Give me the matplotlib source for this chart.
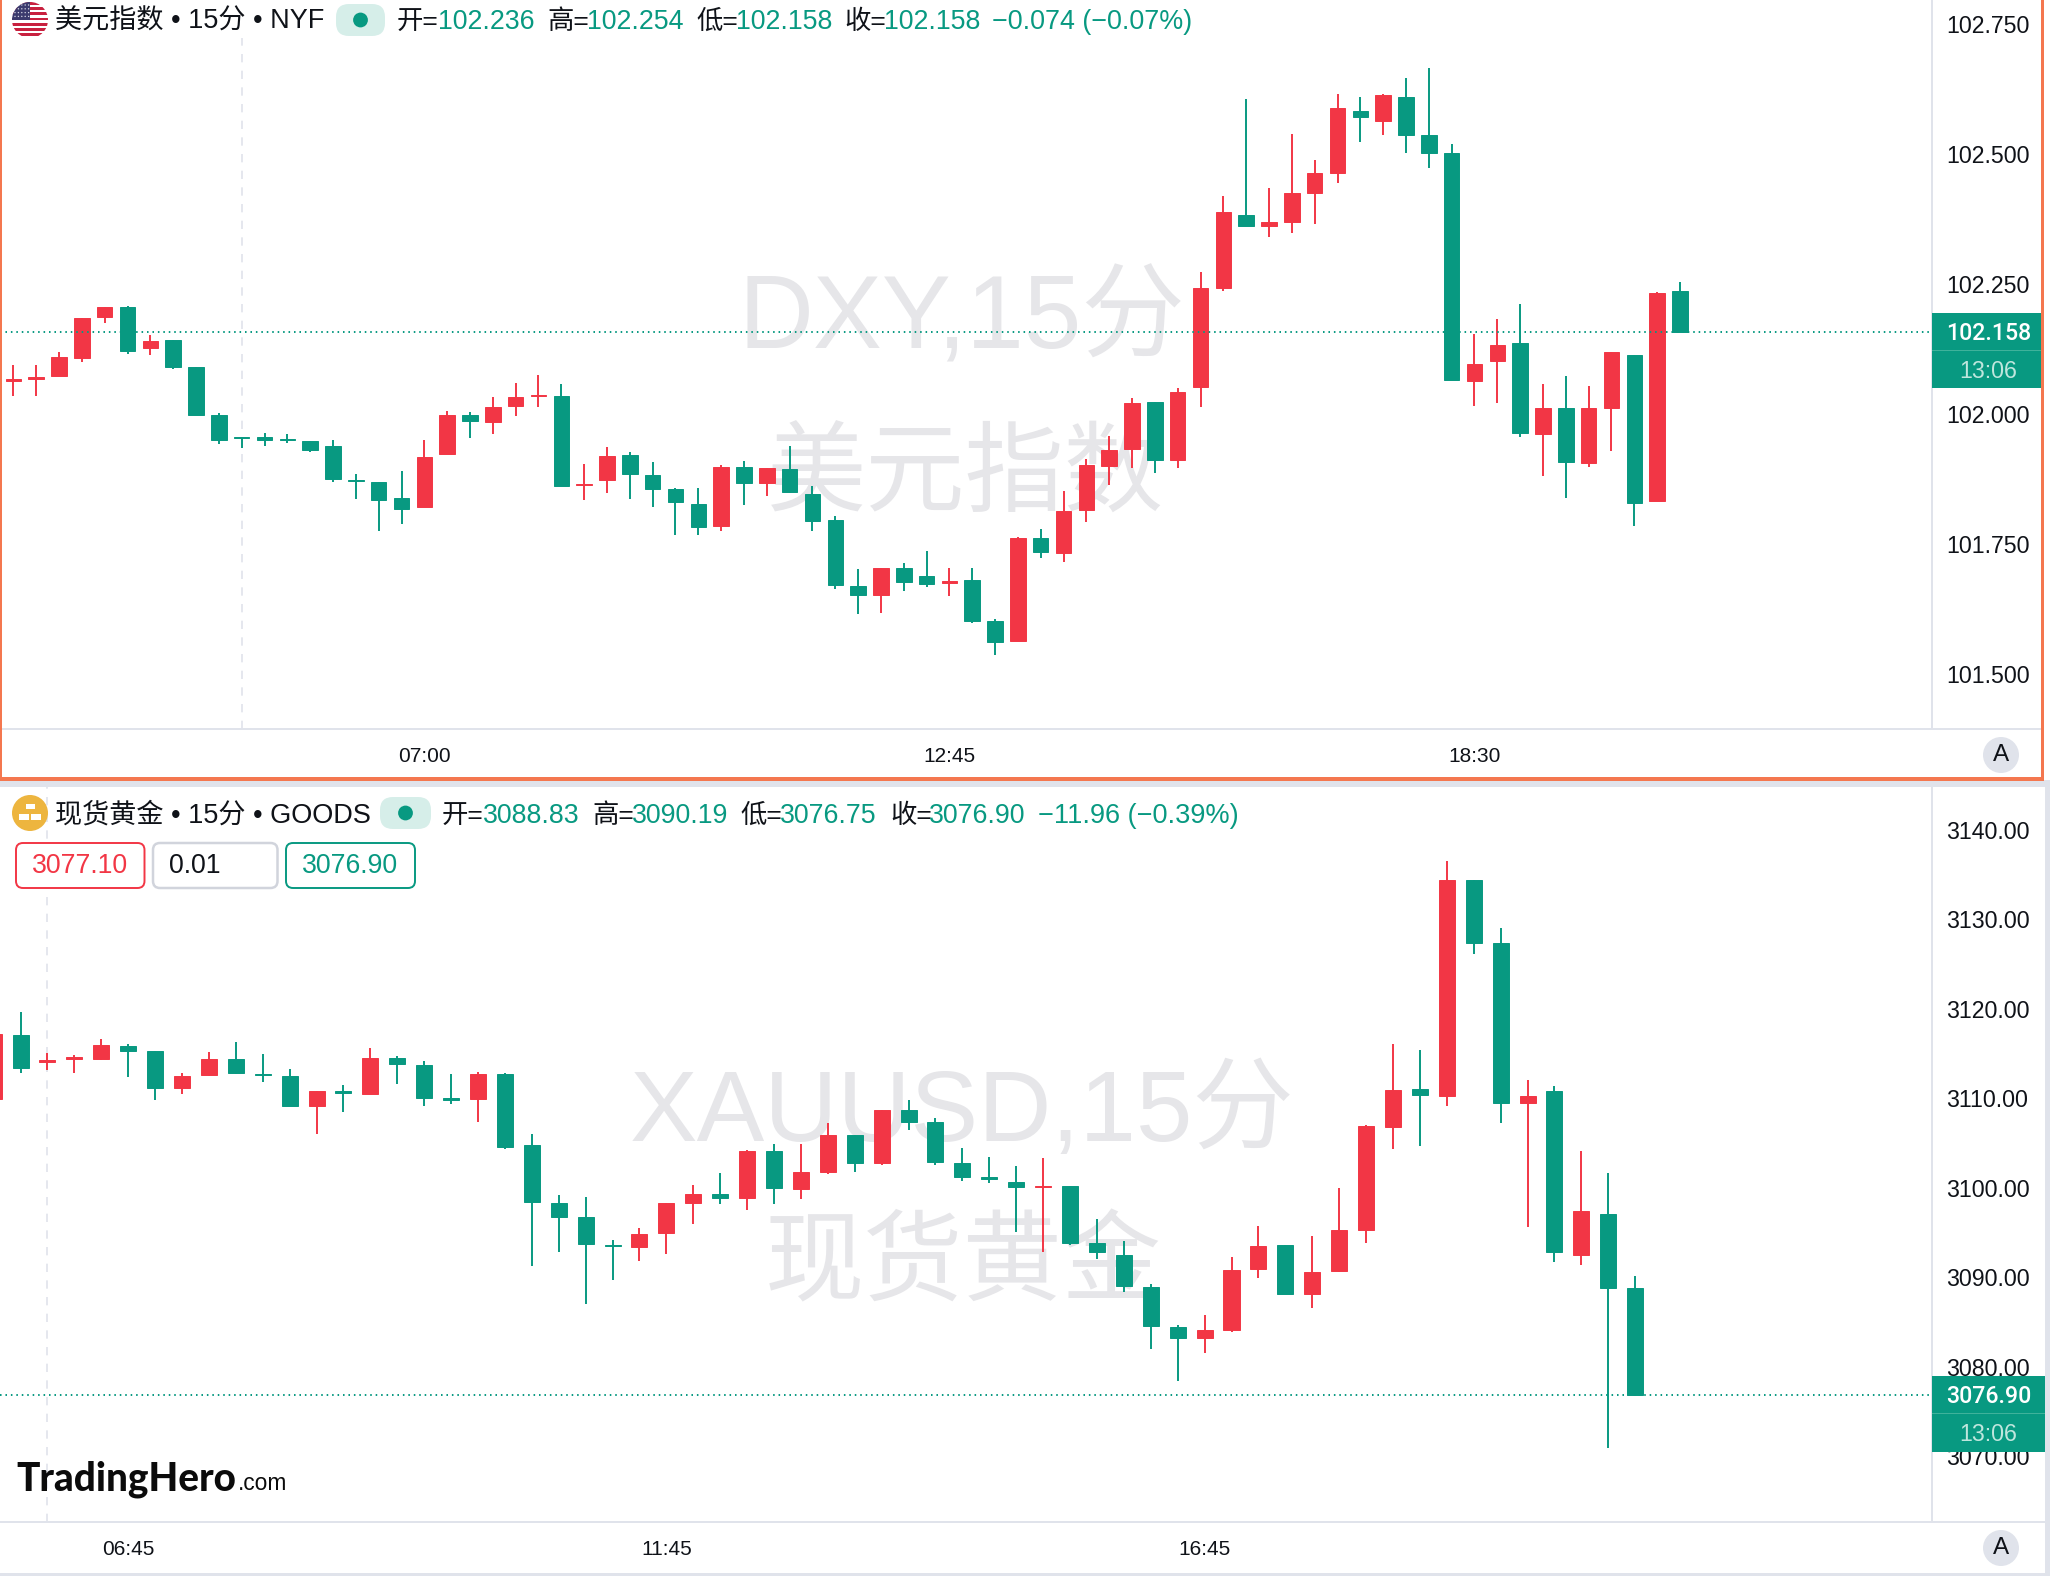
import matplotlib
matplotlib.use("Agg")
import matplotlib.pyplot as plt
from matplotlib.patches import Circle, Rectangle, FancyBboxPatch

# 15 minute bars
dxy_open = [102.064, 102.067, 102.073, 102.108, 102.187, 102.205, 102.126, 102.143, 102.091, 101.998,
            101.956, 101.956, 101.952, 101.948, 101.938, 101.873, 101.869, 101.839, 101.821, 101.923,
            101.998, 101.985, 102.015, 102.034, 102.035, 101.864, 101.872, 101.920, 101.883, 101.855,
            101.826, 101.784, 101.898, 101.867, 101.894, 101.846, 101.796, 101.669, 101.652, 101.703,
            101.689, 101.674, 101.681, 101.602, 101.563, 101.762, 101.732, 101.815, 101.899, 101.932,
            102.022, 101.912, 102.051, 102.242, 102.383, 102.362, 102.369, 102.425, 102.464, 102.582,
            102.564, 102.610, 102.536, 102.502, 102.063, 102.101, 102.137, 101.961, 102.012, 101.905,
            102.012, 102.113, 101.833, 102.236]
dxy_high = [102.095, 102.095, 102.119, 102.185, 102.206, 102.208, 102.152, 102.143, 102.091, 102.001,
            101.956, 101.964, 101.961, 101.948, 101.950, 101.884, 101.869, 101.891, 101.950, 102.005,
            102.004, 102.033, 102.059, 102.075, 102.058, 101.904, 101.936, 101.926, 101.907, 101.857,
            101.857, 101.902, 101.909, 101.896, 101.938, 101.861, 101.804, 101.702, 101.703, 101.713,
            101.737, 101.703, 101.704, 101.605, 101.764, 101.779, 101.851, 101.914, 101.958, 102.031,
            102.022, 102.050, 102.273, 102.420, 102.605, 102.435, 102.539, 102.488, 102.616, 102.610,
            102.615, 102.646, 102.666, 102.519, 102.154, 102.182, 102.212, 102.058, 102.073, 102.053,
            102.120, 102.113, 102.234, 102.254]
dxy_low = [102.034, 102.034, 102.073, 102.100, 102.175, 102.116, 102.114, 102.087, 101.998, 101.942,
           101.934, 101.939, 101.944, 101.926, 101.869, 101.837, 101.774, 101.788, 101.821, 101.923,
           101.954, 101.962, 101.996, 102.014, 101.862, 101.835, 101.848, 101.837, 101.820, 101.768,
           101.767, 101.775, 101.824, 101.843, 101.847, 101.774, 101.664, 101.616, 101.618, 101.660,
           101.667, 101.649, 101.598, 101.537, 101.563, 101.722, 101.715, 101.792, 101.863, 101.896,
           101.886, 101.896, 102.013, 102.237, 102.361, 102.340, 102.348, 102.366, 102.445, 102.522,
           102.536, 102.502, 102.472, 102.065, 102.015, 102.020, 101.956, 101.881, 101.839, 101.897,
           101.929, 101.785, 101.833, 102.158]
dxy_close = [102.068, 102.071, 102.110, 102.185, 102.206, 102.121, 102.141, 102.091, 101.998, 101.949,
             101.953, 101.949, 101.949, 101.930, 101.874, 101.871, 101.835, 101.818, 101.917, 101.997,
             101.987, 102.014, 102.033, 102.036, 101.862, 101.866, 101.919, 101.884, 101.855, 101.830,
             101.783, 101.898, 101.868, 101.896, 101.849, 101.794, 101.671, 101.651, 101.703, 101.676,
             101.673, 101.679, 101.602, 101.562, 101.762, 101.734, 101.813, 101.902, 101.931, 102.021,
             101.911, 102.043, 102.242, 102.388, 102.361, 102.369, 102.424, 102.463, 102.589, 102.571,
             102.613, 102.536, 102.502, 102.066, 102.095, 102.132, 101.963, 102.011, 101.907, 102.012,
             102.119, 101.828, 102.232, 102.158]

gold_open = [3109.96, 3117.04, 3114.09, 3114.43, 3114.43, 3115.85, 3115.28, 3111.20, 3112.62, 3114.38,
             3112.73, 3112.51, 3109.10, 3110.80, 3110.46, 3114.55, 3113.70, 3110.01, 3109.96, 3112.68,
             3104.74, 3098.33, 3096.69, 3093.63, 3093.40, 3094.93, 3098.28, 3099.35, 3098.90, 3104.12,
             3099.86, 3101.79, 3105.87, 3102.81, 3108.65, 3107.35, 3102.81, 3101.17, 3100.66, 3100.15,
             3100.26, 3093.85, 3092.49, 3088.98, 3084.50, 3083.25, 3084.16, 3090.91, 3093.63, 3088.13,
             3090.68, 3095.27, 3106.78, 3111.09, 3110.30, 3134.33, 3127.30, 3109.44, 3110.80, 3092.55,
             3097.09, 3088.83]
gold_high = [3117.21, 3119.65, 3115.11, 3114.89, 3116.64, 3116.08, 3115.28, 3112.79, 3115.17, 3116.25,
             3114.94, 3113.24, 3110.86, 3111.49, 3115.62, 3114.77, 3114.21, 3112.68, 3112.90, 3112.79,
             3105.99, 3099.18, 3099.01, 3094.19, 3095.56, 3098.33, 3100.32, 3101.62, 3104.28, 3104.91,
             3104.91, 3107.29, 3105.87, 3108.65, 3109.84, 3107.80, 3104.45, 3103.44, 3102.47, 3103.38,
             3100.26, 3096.57, 3094.08, 3089.26, 3084.67, 3085.75, 3092.27, 3095.79, 3093.63, 3094.65,
             3100.03, 3107.00, 3116.08, 3115.45, 3136.49, 3134.39, 3129.06, 3112.05, 3111.43, 3104.12,
             3101.68, 3090.19]
gold_low = [3109.96, 3112.85, 3113.19, 3112.79, 3114.27, 3112.39, 3109.78, 3110.46, 3112.51, 3112.73,
            3111.83, 3109.16, 3105.99, 3108.48, 3110.46, 3111.65, 3109.16, 3109.39, 3107.35, 3104.34,
            3091.25, 3092.83, 3087.05, 3089.72, 3091.87, 3092.66, 3096.01, 3098.16, 3097.54, 3098.16,
            3098.79, 3101.56, 3101.73, 3102.58, 3106.44, 3102.58, 3100.71, 3100.54, 3095.05, 3092.83,
            3093.63, 3092.04, 3088.36, 3081.95, 3078.44, 3081.50, 3083.88, 3089.94, 3088.13, 3086.54,
            3090.57, 3093.85, 3104.34, 3104.63, 3109.10, 3126.11, 3107.29, 3095.67, 3091.70, 3091.36,
            3070.90, 3076.75]
gold_close = [3117.21, 3113.36, 3114.27, 3114.60, 3115.96, 3115.34, 3111.20, 3112.51, 3114.38, 3112.85,
              3112.56, 3109.16, 3110.86, 3110.58, 3114.49, 3113.81, 3110.01, 3109.78, 3112.68, 3104.51,
              3098.45, 3096.80, 3093.74, 3093.46, 3094.82, 3098.33, 3099.30, 3098.90, 3104.17, 3100.03,
              3101.79, 3105.93, 3102.81, 3108.65, 3107.40, 3102.87, 3101.22, 3101.00, 3100.15, 3100.26,
              3093.85, 3092.83, 3089.04, 3084.56, 3083.20, 3084.16, 3090.85, 3093.52, 3088.13, 3090.62,
              3095.27, 3106.89, 3110.98, 3110.35, 3134.33, 3127.30, 3109.44, 3110.30, 3092.78, 3097.43,
              3088.87, 3076.90]

dxy_yticks = [101.5, 101.75, 102.0, 102.25, 102.5, 102.75]
dxy_ylabels = ["101.500", "101.750", "102.000", "102.250", "102.500", "102.750"]
dxy_xticks = [18, 41, 64]
dxy_xlabels = ["07:00", "12:45", "18:30"]
gold_yticks = [3070, 3080, 3090, 3100, 3110, 3120, 3130, 3140]
gold_ylabels = ["3070.00", "3080.00", "3090.00", "3100.00", "3110.00", "3120.00", "3130.00", "3140.00"]
gold_xticks = [5, 25, 45]
gold_xlabels = ["06:45", "11:45", "16:45"]

UP = "#F23645"
DOWN = "#089981"
INK = "#0F1218"
LINE = "#E0E3EB"
ORANGE = "#F4774F"
WM = "#E6E6E9"
FONT = ["Liberation Sans", "Noto Sans CJK SC"]
W, H = 2050, 1576

plt.rcParams["font.family"] = FONT
fig = plt.figure(figsize=(W / 100, H / 100), dpi=100)


def pane(top, bottom):
    a = fig.add_axes([0, 1 - bottom / H, 1932 / W, (bottom - top) / H])
    a.patch.set_alpha(0)
    for s in a.spines.values():
        s.set_visible(False)
    a.yaxis.tick_right()
    a.tick_params(length=0, colors=INK)
    a.tick_params(axis="y", labelsize=16.7, pad=10.2)
    a.tick_params(axis="x", labelsize=15, pad=13)
    return a


def candles(a, o, h, l, c, width):
    for i in range(len(o)):
        col = UP if c[i] >= o[i] else DOWN
        a.vlines(i, l[i], h[i], color=col, lw=1.4, zorder=3)
        a.bar(i, abs(c[i] - o[i]), bottom=min(o[i], c[i]), width=width, color=col,
              edgecolor=col, lw=0.7, zorder=4)


ax1 = pane(0, 729)
candles(ax1, dxy_open, dxy_high, dxy_low, dxy_close, 0.68)
ax1.set_xlim(-0.587, 84.04)
ax1.set_ylim(101.394, 102.796)
ax1.set_yticks(dxy_yticks, dxy_ylabels)
ax1.set_xticks(dxy_xticks, dxy_xlabels)
ax1.axvline(10, ymax=0.948, color=LINE, lw=1.2, ls=(0, (5, 5)), zorder=1)
ax1.axhline(dxy_close[-1], color=DOWN, lw=1.4, ls=(0, (0.8, 2)), zorder=5)

ax2 = pane(787, 1522)
candles(ax2, gold_open, gold_high, gold_low, gold_close, 0.595)
ax2.set_xlim(0.238, 72.03)
ax2.set_ylim(3062.68, 3144.77)
ax2.set_yticks(gold_yticks, gold_ylabels)
ax2.set_xticks(gold_xticks, gold_xlabels)
ax2.axvline(2, color=LINE, lw=1.2, ls=(0, (5, 5)), zorder=1)
ax2.axhline(gold_close[-1], color=DOWN, lw=1.4, ls=(0, (0.8, 2)), zorder=5)

# watermarks sit behind the transparent panes
for x, y, s, size in [(962, 321, "DXY,15分", 74.5), (965, 479, "美元指数", 71.5),
                      (962, 1114, "XAUUSD,15分", 73), (963, 1267, "现货黄金", 71.5)]:
    fig.text(x / W, 1 - y / H, s, color=WM, fontsize=size, fontweight=500, ha="center", va="center", zorder=-1)

# everything around the charts is drawn in pixel space on top
ui = fig.add_axes([0, 0, 1, 1])
ui.set_xlim(0, W)
ui.set_ylim(H, 0)
ui.axis("off")
ui.patch.set_alpha(0)


def rect(x0, y0, x1, y1, col, z=2):
    ui.add_patch(Rectangle((x0, y0), x1 - x0, y1 - y0, fc=col, ec="none", zorder=z))


rect(1931, 0, 1933, 729, LINE)
rect(0, 728, 2042, 730, LINE)
rect(1931, 787, 1933, 1522, LINE)
rect(0, 1521, 2045, 1523, LINE)
rect(0, 780, W, 787, LINE)
rect(0, 1573, W, H, LINE)
rect(2045, 781, W, H, LINE)

# price tags
for y0, y1, split, price, x1 in [(313, 388, 350.5, "102.158", 2041), (1376, 1452, 1413.5, "3076.90", 2045)]:
    rect(1932, y0, x1, y1, DOWN, 3)
    rect(1932, split - 0.5, x1, split + 0.5, "#3FB29B", 4)
    ui.text(1988.5, (y0 + split) / 2 + 2, price, color="white", fontsize=16.7, fontweight="medium",
            family=["Roboto", "Liberation Sans"], ha="center", va="center", zorder=5)
    ui.text(1988.5, (split + y1) / 2 + 2, "13:06", color="#BFE6DD", fontsize=16.7, ha="center", va="center", zorder=5)

# orange selection frame of the top pane
rect(0, 0, 2, 779, ORANGE, 6)
rect(2041, 0, 2044, 781, ORANGE, 6)
rect(0, 777, 2044, 781, ORANGE, 6)

for y in [755, 1548]:
    ui.add_patch(Circle((2001, y), 18, fc=LINE, ec="none"))
    ui.text(2001, y, "A", color=INK, fontsize=17.5, ha="center", va="center")

# flag
disc = Circle((30, 20), 18, fc="white", ec="none", zorder=3)
ui.add_patch(disc)
for i in range(7):
    r = Rectangle((10, 2 + i * 5.2), 40, 2.7, fc="#C8213F", ec="none", zorder=3)
    ui.add_patch(r)
    r.set_clip_path(disc)
canton = Rectangle((10, 2), 20, 18, fc="#3C3B6E", ec="none", zorder=3)
ui.add_patch(canton)
canton.set_clip_path(disc)
for i in range(4):
    for j in range(5):
        star = Circle((15 + j * 3.4, 5 + i * 3.8), 0.7, fc="#D8D8E6", ec="none", zorder=4)
        ui.add_patch(star)
        star.set_clip_path(disc)

# gold icon
ui.add_patch(Circle((30, 813), 18, fc="#EDB53F", ec="none", zorder=3))
for x, y, w, h in [(26, 804, 9, 5), (19, 814, 10, 6), (31, 814, 10, 6)]:
    rect(x, y, x + w, y + h, "white", 4)

# market open pills
for x0, yc, w in [(336, 20, 49), (380, 813, 51)]:
    ui.add_patch(FancyBboxPatch((x0, yc - 16), w, 32, boxstyle="round,pad=0,rounding_size=13",
                                fc="#D6EEE9", ec="none"))
    ui.add_patch(Circle((x0 + w / 2, yc), 7.4, fc=DOWN, ec="none", zorder=3))

# header text
for y, items in [
    (29, [(55, "美元指数 • 15分 • NYF", INK, 19.5), (397, "开=", INK, 19), (438, "102.236", DOWN, 19.3),
          (547, "高=", INK, 19), (587, "102.254", DOWN, 19.3), (696, "低=", INK, 19), (736, "102.158", DOWN, 19.3),
          (844, "收=", INK, 19), (884, "102.158", DOWN, 19.3), (992, "−0.074 (−0.07%)", DOWN, 19.4)]),
    (822.5, [(55, "现货黄金 • 15分 • GOODS", INK, 19.5), (442, "开=", INK, 19), (483, "3088.83", DOWN, 19.3),
             (592, "高=", INK, 19), (632, "3090.19", DOWN, 19.3), (740, "低=", INK, 19), (780, "3076.75", DOWN, 19.3),
             (890, "收=", INK, 19), (929, "3076.90", DOWN, 19.3), (1038, "−11.96 (−0.39%)", DOWN, 19.5)]),
]:
    for x, s, col, size in items:
        ui.text(x, y, s, color=col, fontsize=size, ha="left", va="baseline", zorder=5)

# order buttons
for x0, x1, s, col, tcol, tx, ha, lw in [(16, 144.5, "3077.10", UP, UP, 80, "center", 1.4),
                                         (153, 277.5, "0.01", "#D1D4DC", INK, 169, "left", 1.8),
                                         (286, 415, "3076.90", DOWN, DOWN, 350.5, "center", 1.4)]:
    ui.add_patch(FancyBboxPatch((x0, 843), x1 - x0, 45, boxstyle="round,pad=0,rounding_size=7",
                                fc="white", ec=col, lw=lw, zorder=3))
    ui.text(tx, 866, s, color=tcol, fontsize=19.2, ha=ha, va="center", zorder=5)

# logo
ui.text(16, 1490.5, "TradingHero", color="#0B0B0B", fontsize=27.8, fontweight="black", ha="left", va="baseline",
        family=["Lato", "Liberation Sans"], zorder=5)
ui.text(238, 1490.5, ".com", color="#0B0B0B", fontsize=16.4, ha="left", va="baseline", zorder=5)

fig.savefig("out.png", dpi=100)
